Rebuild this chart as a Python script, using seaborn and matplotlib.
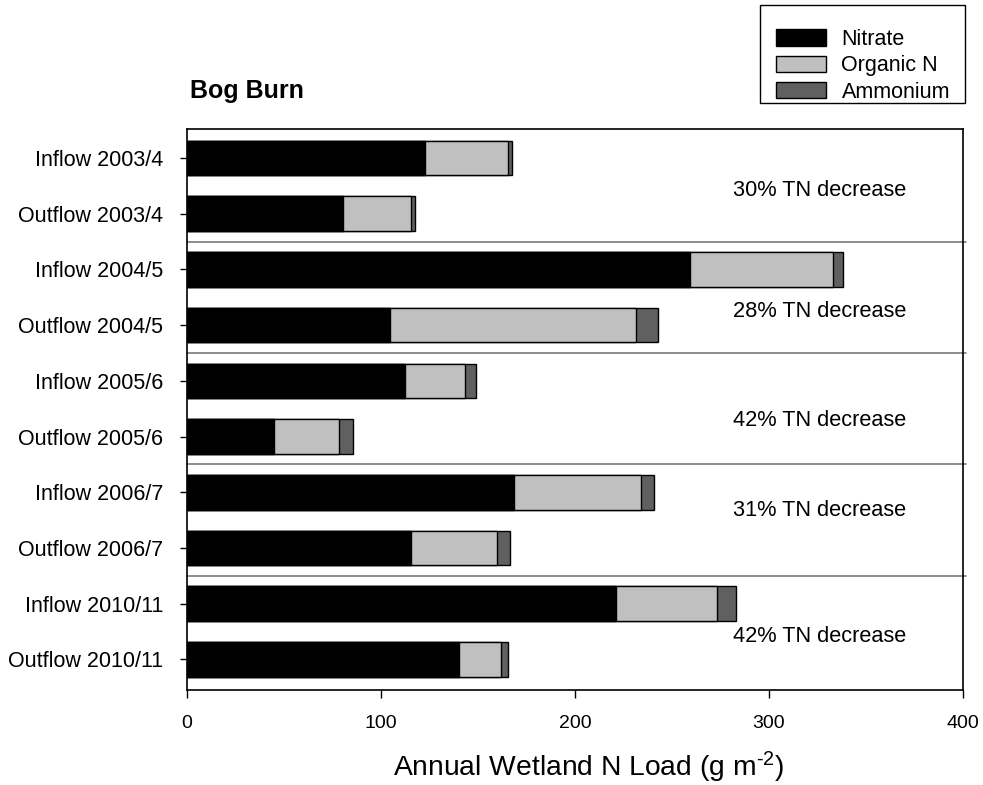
import numpy as np
import pandas as pd
import matplotlib
matplotlib.use('Agg')
import matplotlib.pyplot as plt
from matplotlib.patches import Patch, Rectangle
import seaborn as sns

# ── data ──────────────────────────────────────────────────────────────────────
categorias = ['Inflow 2003/4', 'Outflow 2003/4', 'Inflow 2004/5', 'Outflow 2004/5',
              'Inflow 2005/6', 'Outflow 2005/6', 'Inflow 2006/7', 'Outflow 2006/7',
              'Inflow 2010/11', 'Outflow 2010/11']
nitrato = [122.5, 80.6, 259.1, 104.9, 112.3, 45.1, 168.5, 115.3, 221.3, 140.0]
organico = [43.0, 35.0, 74.1, 126.6, 31.2, 33.3, 65.6, 44.7, 52.0, 21.6]
amonio = [1.8, 2.1, 5.1, 11.2, 5.5, 7.2, 6.4, 6.5, 9.9, 3.8]
decrementos = ['30% TN decrease', '28% TN decrease', '42% TN decrease',
               '31% TN decrease', '42% TN decrease']
x_ticks = [0, 100, 200, 300, 400]

df = pd.DataFrame({'cat': categorias, 'nitrate': nitrato,
                   'organic': organico, 'ammonium': amonio})
df['org_top'] = df['nitrate'] + df['organic']
df['total'] = df['org_top'] + df['ammonium']

# ── style ─────────────────────────────────────────────────────────────────────
sns.set_style('white')
plt.rcParams['font.family'] = ['Liberation Sans', 'DejaVu Sans']
plt.rcParams['mathtext.fontset'] = 'custom'
plt.rcParams['mathtext.rm'] = 'Liberation Sans'
plt.rcParams['mathtext.default'] = 'regular'
for k in ['text.color', 'axes.labelcolor', 'xtick.color', 'ytick.color']:
    plt.rcParams[k] = 'black'

NEGRO = '#000000'; GRIS_CL = '#C0C0C0'; GRIS_OS = '#606060'

fig = plt.figure(figsize=(9.83, 7.85), dpi=100)
ax = fig.add_axes([0.1902, 0.1210, 0.7895, 0.7147])

# stacked bars: draw cumulative totals back to front
kw = dict(y='cat', orient='h', width=0.62, saturation=1, errorbar=None,
          edgecolor='black', linewidth=1.0, ax=ax)
sns.barplot(data=df, x='total', color=GRIS_OS, **kw)
sns.barplot(data=df, x='org_top', color=GRIS_CL, **kw)
sns.barplot(data=df, x='nitrate', color=NEGRO, **kw)

ax.set_xlim(0, 400)
ax.set_ylim(9.55, -0.52)
ax.set_xticks(x_ticks)
ax.set_xticklabels([str(t) for t in x_ticks])
ax.set_ylabel('')
ax.set_xlabel('Annual Wetland N Load (g m$^{\u2010 2}$)', fontsize=20.3, labelpad=12.5, x=0.518)
ax.tick_params(axis='y', direction='out', length=5, width=1, labelsize=15.5, pad=12, left=True)
ax.tick_params(axis='x', direction='out', length=6, width=1, labelsize=14, pad=12, bottom=True)
for sp in ax.spines.values():
    sp.set_edgecolor('black'); sp.set_linewidth(1.2)

# separators between year groups
for yy in [1.5, 3.5, 5.5, 7.5]:
    ax.axhline(yy, xmin=0, xmax=1.004, color='#7a7a7a', lw=1.2, clip_on=False)

# TN decrease labels
for txt, yy in zip(decrementos, [0.58, 2.75, 4.71, 6.33, 8.59]):
    ax.text(326, yy, txt, ha='center', va='center', fontsize=15.7)

fig.text(0.193, 0.884, 'Bog Burn', fontsize=18, fontweight='bold', ha='left', va='center')

# legend: entries without frame, box drawn separately
handles = [Patch(facecolor=NEGRO, edgecolor='black', label='Nitrate'),
           Patch(facecolor=GRIS_CL, edgecolor='black', label='Organic N'),
           Patch(facecolor=GRIS_OS, edgecolor='black', label='Ammonium')]
leg = fig.legend(handles=handles, loc='upper right', bbox_to_anchor=(0.9664, 0.963),
                 fontsize=15.5, frameon=False,
                 handlelength=2.35, handleheight=0.78, handletextpad=0.7,
                 labelspacing=0.25, borderpad=0, borderaxespad=0)
fig.patches.append(Rectangle((0.7731, 0.8688), 0.2085, 0.1248, transform=fig.transFigure,
                             facecolor='none', edgecolor='black', lw=1.0))

plt.savefig('out.png', dpi=100, facecolor='white')
plt.close()
